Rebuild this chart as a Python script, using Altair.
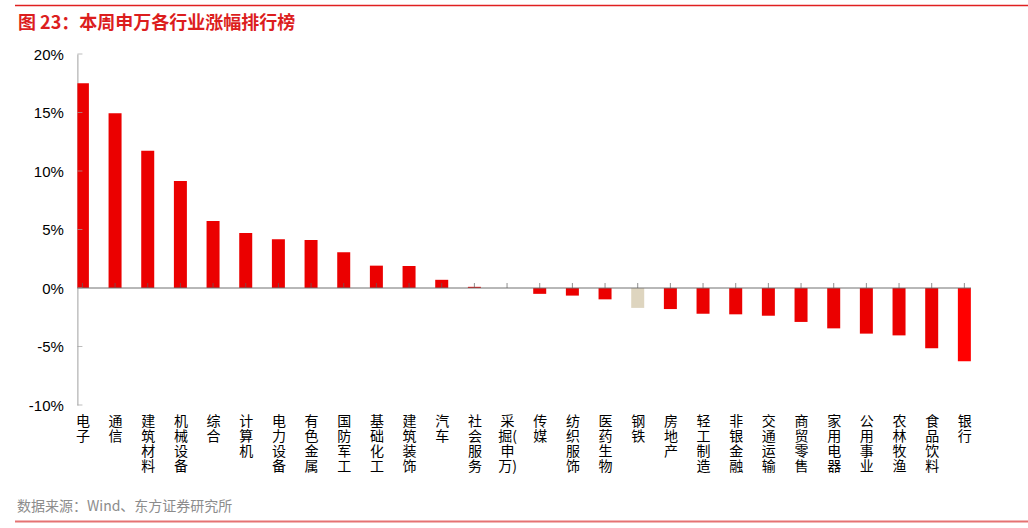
import json
import re
import altair as alt
import pandas as pd

# ---- data ----
categories = ['电子', '通信', '建筑材料', '机械设备', '综合', '计算机', '电力设备', '有色金属',
              '国防军工', '基础化工', '建筑装饰', '汽车', '社会服务', '采掘(申万)', '传媒',
              '纺织服饰', '医药生物', '钢铁', '房地产', '轻工制造', '非银金融', '交通运输',
              '商贸零售', '家用电器', '公用事业', '农林牧渔', '食品饮料', '银行']
values = [17.5, 14.93, 11.74, 9.15, 5.73, 4.7, 4.16, 4.1, 3.05, 1.91, 1.88, 0.7, 0.1, 0.0,
          -0.5, -0.65, -0.97, -1.7, -1.8, -2.2, -2.25, -2.37, -2.9, -3.45, -3.9, -4.05,
          -5.15, -6.26]
y_ticks = [-10, -5, 0, 5, 10, 15, 20]
title_text = '图 23：本周申万各行业涨幅排行榜'
source_text = '数据来源：Wind、东方证券研究所'

RED = '#EB0000'
BRIGHT_RED = '#FF0000'
BEIGE = '#DED5BF'
CJK = 'Noto Sans CJK SC'

df = pd.DataFrame({'idx': list(range(len(categories))), 'cat': categories, 'v': values})

# vertical label lines (keep parentheses attached to a character)
label_lines = [re.findall(r'.[()]?', c) for c in categories]
label_expr = json.dumps(label_lines, ensure_ascii=False) + '[datum.value]'

W, H = 893.6, 351
LEFT, TOP = 77.4, 54

xscale = alt.Scale(domain=[0, 27.05], nice=False, zero=False)
yscale = alt.Scale(domain=[-10, 20], nice=False)

x_axis = alt.Axis(orient='bottom', values=list(range(len(categories))), labelExpr=label_expr,
                  domain=False, ticks=False, grid=False, title=None,
                  labelFont=CJK, labelFontSize=14, labelLineHeight=15,
                  labelColor='#000000', labelPadding=9, labelOverlap=False,
                  labelFlush=False, labelBound=False, labelAlign='center',
                  labelBaseline='top', labelSeparation=0)
y_axis = alt.Axis(orient='left', values=y_ticks, labelExpr="datum.value + '%'", grid=False,
                  ticks=False, domain=True, domainColor='#A0A0A0', title=None,
                  labelFont='Liberation Sans', labelFontSize=15,
                  labelColor='#000000', labelPadding=14, labelOverlap=False)

bar_color = (alt.when(alt.datum.cat == '钢铁').then(alt.value(BEIGE))
             .when(alt.datum.cat == '银行').then(alt.value(BRIGHT_RED))
             .otherwise(alt.value(RED)))

bars = alt.Chart(df).transform_calculate(base='0').mark_bar(
    size=13, clip=True, orient='vertical').encode(
    x=alt.X('idx:Q', scale=xscale, axis=x_axis),
    y=alt.Y('v:Q', scale=yscale, axis=y_axis),
    y2='base:Q',
    color=bar_color,
)

zero_line = alt.Chart(pd.DataFrame({'v': [0]})).mark_rule(color='#707070', strokeWidth=1).encode(
    y=alt.Y('v:Q', scale=yscale, axis=None)
)

x_ticks = alt.Chart(df).transform_calculate(base='0').mark_tick(
    orient='vertical', size=5, thickness=1, yOffset=-2.5, color='#606060').encode(
    x=alt.X('idx:Q', scale=xscale, axis=None),
    y=alt.Y('base:Q', scale=yscale, axis=None),
)

y_tick_marks = alt.Chart(pd.DataFrame({'v': y_ticks})).mark_tick(
    orient='horizontal', size=5, thickness=1, xOffset=2.5, color='#A0A0A0').encode(
    y=alt.Y('v:Q', scale=yscale, axis=None),
    x=alt.value(0),
)

title = alt.Chart(pd.DataFrame({'t': [title_text]})).mark_text(
    align='left', baseline='alphabetic', font=CJK, fontSize=18, fontWeight='bold',
    color='#DC1E1E').encode(
    text='t:N', x=alt.value(18 - LEFT), y=alt.value(28.5 - TOP))

source = alt.Chart(pd.DataFrame({'t': [source_text]})).mark_text(
    align='left', baseline='alphabetic', font=CJK, fontSize=14, color='#8C8C8C').encode(
    text='t:N', x=alt.value(17 - LEFT), y=alt.value(511 - TOP))

top_line = alt.Chart(pd.DataFrame({'a': [0]})).mark_rule(color='#E02020', strokeWidth=1.5).encode(
    x=alt.value(15 - LEFT), x2=alt.value(1028 - LEFT), y=alt.value(5.5 - TOP))

bottom_line = alt.Chart(pd.DataFrame({'a': [0]})).mark_rule(color='#E57373', strokeWidth=2).encode(
    x=alt.value(15 - LEFT), x2=alt.value(1028 - LEFT), y=alt.value(521.5 - TOP))

chart = alt.layer(bars, zero_line, x_ticks, y_tick_marks, title, source, top_line, bottom_line).resolve_axis(
    x='independent', y='independent'
).properties(
    width=W, height=H,
    padding={'left': LEFT, 'top': TOP, 'right': 1028 - LEFT - W, 'bottom': 528 - TOP - H},
    autosize=alt.AutoSizeParams(type='none'),
).configure(
    background='white', style={'cell': {'stroke': 'transparent'}}
).configure_view(stroke='transparent')

chart.save('out.html', embed_options={'renderer': 'svg', 'actions': False})
